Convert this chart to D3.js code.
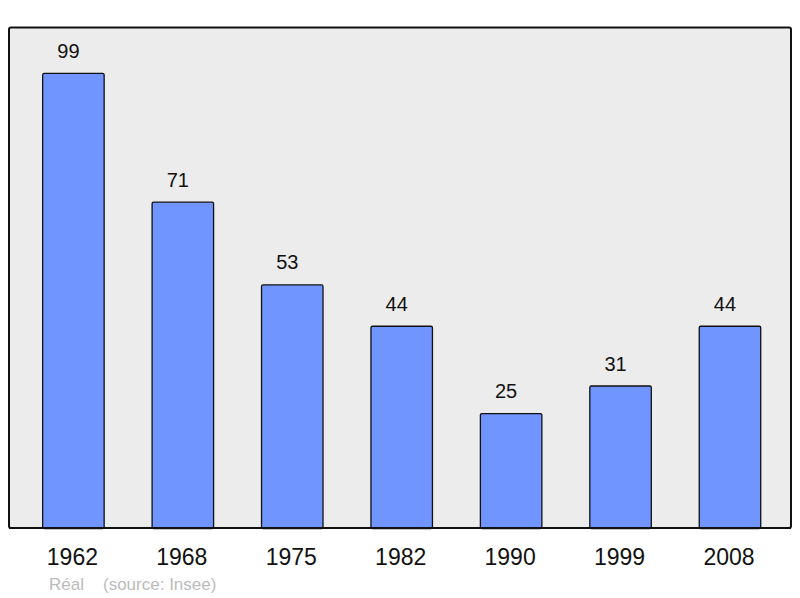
<!DOCTYPE html>
<html>
<head>
<meta charset="utf-8">
<script src="https://cdn.jsdelivr.net/npm/d3@7"></script>
<style>
  body { margin: 0; background: #fff; }
  text { font-family: "Liberation Sans", Arial, sans-serif; }
</style>
</head>
<body>
<svg id="chart"></svg>
<script>
var years = ["1962", "1968", "1975", "1982", "1990", "1999", "2008"];
var values = [99, 71, 53, 44, 25, 31, 44];

var width = 800, height = 598;

var svg = d3.select("#chart")
            .attr("width", width)
            .attr("height", height);

// frame of the plot
svg.append("rect")
   .attr("x", 9)
   .attr("y", 27.5)
   .attr("width", 782)
   .attr("height", 500.5)
   .attr("rx", 2)
   .attr("fill", "#ececec")
   .attr("stroke", "#111")
   .attr("stroke-width", 2);

var x = d3.scaleBand()
          .domain(years)
          .range([18.7, 784.7])
          .paddingInner(0.429)
          .paddingOuter(0.2145);

var y = d3.scaleLinear()
          .domain([0, 109])
          .range([528, 27]);

var bars = svg.selectAll(".bar")
              .data(values)
              .enter().append("g")
              .attr("class", "bar");

bars.append("rect")
    .attr("x", function(d, i) { return x(years[i]) + 0.5; })
    .attr("y", function(d) { return y(d) + 0.5; })
    .attr("width", x.bandwidth() - 1)
    .attr("height", function(d) { return y(0) - y(d); })
    .attr("rx", 1.5)
    .attr("fill", "#7095ff")
    .attr("stroke", "#111")
    .attr("stroke-width", 1.3);

// value labels sit a little left of the bar centre, as in the original
bars.append("text")
    .attr("x", function(d, i) { return x(years[i]) + x.bandwidth() / 2 - 5; })
    .attr("y", function(d) { return y(d) - 15; })
    .attr("text-anchor", "middle")
    .style("font-size", "20px")
    .attr("fill", "#111")
    .text(function(d) { return d; });

// bottom line of the frame drawn again over the bars
svg.append("line")
   .attr("x1", 9).attr("x2", 791)
   .attr("y1", 528).attr("y2", 528)
   .attr("stroke", "#111")
   .attr("stroke-width", 2);

svg.selectAll(".year")
   .data(years)
   .enter().append("text")
   .attr("class", "year")
   .attr("x", function(d) { return x(d) + x.bandwidth() / 2 - 1; })
   .attr("y", 565)
   .attr("text-anchor", "middle")
   .style("font-size", "23px")
   .attr("fill", "#111")
   .text(function(d) { return d; });

svg.append("text")
   .attr("x", 49)
   .attr("y", 590)
   .style("font-size", "17px")
   .attr("fill", "#bbb")
   .text("Réal");

svg.append("text")
   .attr("x", 103)
   .attr("y", 590)
   .style("font-size", "17px")
   .attr("fill", "#bbb")
   .text("(source: Insee)");
</script>
</body>
</html>
